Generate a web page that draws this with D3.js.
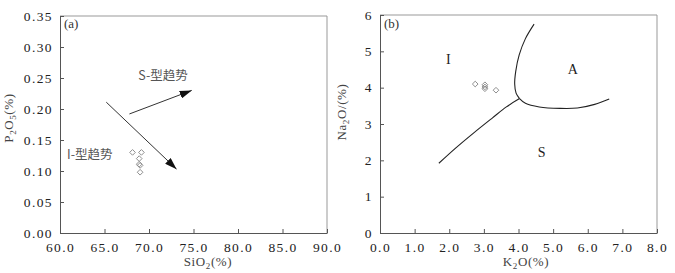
<!DOCTYPE html>
<html>
<head>
<meta charset="utf-8">
<script src="https://cdn.jsdelivr.net/npm/d3@7"></script>
<style>
  body { margin: 0; background: #fff; }
  svg text { font-family: "Liberation Serif", "Times New Roman", Times, serif; }
  svg text.cjk { font-family: "Noto Sans CJK SC", sans-serif; }
</style>
</head>
<body>
<svg id="chart" width="675" height="273"></svg>
<script>
// ---- panel (a): P2O5 vs SiO2
const siTicks = [60, 65, 70, 75, 80, 85, 90];
const pTicks = [0, 0.05, 0.10, 0.15, 0.20, 0.25, 0.30, 0.35];
const samplesA = [
  [68.15, 0.130], [69.15, 0.130], [68.9, 0.120],
  [68.9, 0.111], [69.0, 0.109], [69.0, 0.098]
];
const trendI = [[65.2, 0.211], [73.1, 0.103]];
const trendS = [[67.8, 0.192], [74.8, 0.230]];

// ---- panel (b): Na2O vs K2O
const kTicks = [0, 1, 2, 3, 4, 5, 6, 7, 8];
const naTicks = [0, 1, 2, 3, 4, 5, 6];
const samplesB = [
  [2.75, 4.10], [3.03, 4.08], [3.03, 4.02], [3.03, 3.97], [3.35, 3.93]
];
const lineIS = [[1.7, 1.92], [2.2, 2.35], [2.7, 2.75], [3.25, 3.17], [3.65, 3.47], [4.03, 3.70]];
const lineIA = [[4.03, 3.70], [3.93, 3.85], [3.89, 4.10], [3.92, 4.45], [4.02, 4.90], [4.2, 5.35], [4.45, 5.75]];
const lineAS = [[4.03, 3.70], [4.2, 3.57], [4.6, 3.47], [5.2, 3.43], [5.7, 3.44], [6.2, 3.54], [6.62, 3.69]];

const svg = d3.select("#chart");

svg.append("defs").append("marker")
    .attr("id", "arrow")
    .attr("viewBox", "0 0 12 8")
    .attr("refX", 12).attr("refY", 4)
    .attr("markerWidth", 12).attr("markerHeight", 8)
    .attr("markerUnits", "userSpaceOnUse")
    .attr("orient", "auto")
    .append("path")
    .attr("d", "M0,0 L12,4 L0,8 Z")
    .attr("fill", "#111");

function frame(x, y, xTicks, yTicks, xFmt, yFmt) {
    const g = svg.append("g");
    const [x0, x1] = x.range();
    const [y0, y1] = y.range();

    // top and right border, lighter
    g.append("path")
        .attr("d", `M${x0},${y1}H${x1}V${y0}`)
        .attr("fill", "none")
        .attr("stroke", "#999")
        .attr("stroke-width", 1);

    const ax = g.append("g")
        .attr("transform", `translate(0,${y0})`)
        .call(d3.axisBottom(x).tickValues(xTicks).tickFormat(xFmt).tickSizeInner(-4).tickSizeOuter(0).tickPadding(9));
    const ay = g.append("g")
        .attr("transform", `translate(${x0},0)`)
        .call(d3.axisLeft(y).tickValues(yTicks).tickFormat(yFmt).tickSizeInner(-4).tickSizeOuter(0).tickPadding(7));

    [ax, ay].forEach(a => {
        a.attr("font-family", null);
        a.select(".domain").attr("stroke", "#555");
        a.selectAll(".tick line").attr("stroke", "#555");
        a.selectAll(".tick text")
            .attr("font-size", 13.5)
            .attr("letter-spacing", 1.4)
            .attr("fill", "#222");
    });
    return g;
}

function axisLabel(x, y, parts, rotate) {
    const t = svg.append("text")
        .attr("transform", `translate(${x},${y})` + (rotate ? " rotate(-90)" : ""))
        .attr("text-anchor", "middle")
        .attr("font-size", 13)
        .attr("letter-spacing", 0.6)
        .attr("fill", "#444");
    parts.forEach(p => {
        if (p.sub) {
            t.append("tspan").attr("font-size", 9).attr("dy", 3).text(p.t);
        } else {
            t.append("tspan").attr("dy", p.after ? -3 : 0).text(p.t);
        }
    });
}

function points(g, x, y, data) {
    g.selectAll(".pt")
        .data(data)
        .join("path")
        .attr("class", "pt")
        .attr("d", d3.symbol(d3.symbolSquare, 16))
        .attr("transform", d => `translate(${x(d[0])},${y(d[1])}) rotate(45)`)
        .attr("fill", "none")
        .attr("stroke", "#888")
        .attr("stroke-width", 0.9);
}

// ---------- (a)
const xa = d3.scaleLinear().domain([60, 90]).range([60, 327]);
const ya = d3.scaleLinear().domain([0, 0.35]).range([233, 16]);
const ga = frame(xa, ya, siTicks, pTicks, d3.format(".1f"), d3.format(".2f"));

ga.append("text").attr("x", 64).attr("y", 28).attr("font-size", 13).attr("fill", "#333").text("(a)");

[trendI, trendS].forEach(tr => {
    ga.append("line")
        .attr("x1", xa(tr[0][0])).attr("y1", ya(tr[0][1]))
        .attr("x2", xa(tr[1][0])).attr("y2", ya(tr[1][1]))
        .attr("stroke", "#333")
        .attr("stroke-width", 1)
        .attr("marker-end", "url(#arrow)");
});

ga.append("text").attr("class", "cjk")
    .attr("x", xa(68.8)).attr("y", ya(0.247))
    .attr("font-size", 12.5).attr("fill", "#555").text("S-型趋势");
ga.append("text").attr("class", "cjk")
    .attr("x", xa(60.8)).attr("y", ya(0.12))
    .attr("font-size", 12.5).attr("fill", "#555").text("I-型趋势");

points(ga, xa, ya, samplesA);

axisLabel(208, 266, [{t: "SiO"}, {t: "2", sub: true}, {t: "(%)", after: true}]);
axisLabel(13, 118, [{t: "P"}, {t: "2", sub: true}, {t: "O", after: true}, {t: "5", sub: true}, {t: "(%)", after: true}], true);

// ---------- (b)
const xb = d3.scaleLinear().domain([0, 8]).range([380, 657]);
const yb = d3.scaleLinear().domain([0, 6]).range([233, 15]);
const gb = frame(xb, yb, kTicks, naTicks, d3.format(".1f"), d3.format("d"));

gb.append("text").attr("x", 384).attr("y", 28).attr("font-size", 13).attr("fill", "#333").text("(b)");

const curve = d3.line()
    .x(d => xb(d[0]))
    .y(d => yb(d[1]))
    .curve(d3.curveCatmullRom);

[lineIS, lineIA, lineAS].forEach(l => {
    gb.append("path")
        .attr("d", curve(l))
        .attr("fill", "none")
        .attr("stroke", "#222")
        .attr("stroke-width", 1.1);
});

const fields = [["I", 1.97, 4.8], ["A", 5.57, 4.5], ["S", 4.67, 2.24]];
gb.selectAll(".field")
    .data(fields)
    .join("text")
    .attr("class", "field")
    .attr("x", d => xb(d[1]))
    .attr("y", d => yb(d[2]))
    .attr("dy", "0.35em")
    .attr("text-anchor", "middle")
    .attr("font-size", 14)
    .attr("fill", "#222")
    .text(d => d[0]);

points(gb, xb, yb, samplesB);

axisLabel(526, 266, [{t: "K"}, {t: "2", sub: true}, {t: "O(%)", after: true}]);
axisLabel(346, 112, [{t: "Na"}, {t: "2", sub: true}, {t: "O/(%)", after: true}], true);
</script>
</body>
</html>
